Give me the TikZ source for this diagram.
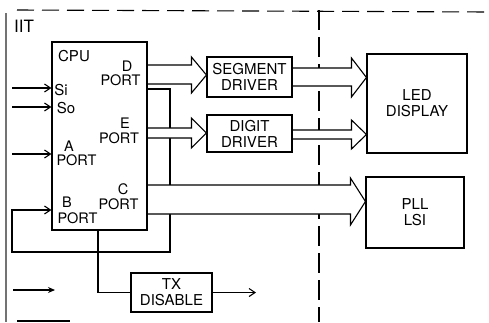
\documentclass[tikz,border=0pt]{standalone}
\usepackage{fontspec}
\setsansfont{TeX Gyre Heros}
\usetikzlibrary{arrows.meta}

\newcommand{\blkfont}{\sffamily\fontsize{15}{16}\selectfont}
\newcommand{\portfont}{\sffamily\fontsize{14.5}{14.5}\selectfont}
\newcommand{\fatarrow}[6]{%
  \draw[fill=white] ([xshift=0.6pt]#1.east |- 0,#3) -- ([xshift=-15pt]#2.west |- 0,#3)
    -- ([xshift=-15pt]#2.west |- 0,#5) -- (#2.west |- 0,{(#5+#6)/2})
    -- ([xshift=-15pt]#2.west |- 0,#6) -- ([xshift=-15pt]#2.west |- 0,#4)
    -- ([xshift=0.6pt]#1.east |- 0,#4);}

\begin{document}
\begin{tikzpicture}[x=1pt, y=-1pt, line width=1.1pt,
  blk/.style={draw, inner sep=0pt, align=center, font=\blkfont},
  txt/.style={inner sep=0pt, font=\blkfont},
  port/.style={inner sep=0pt, align=center, font=\portfont},
  >={Straight Barb[length=6pt,width=8pt]}]
\useasboundingbox (0,0) rectangle (489,322);

% frame and borders
\draw[line width=1.6pt, black!55] (6,13) -- (6,322);
\draw[dash pattern=on 17pt off 8pt] (17,10) -- (489,12);
\draw[dash pattern=on 20pt off 7pt] (319,10) -- (319,322);
\node[txt, font=\sffamily\fontsize{17}{18}\selectfont] (unit) at (24,26) {IIT};

% blocks
\node[blk, minimum width=95pt, minimum height=188pt] (cpu) at (99.5,136) {};
\node[blk, minimum width=85pt, minimum height=40pt] (seg) at (249.5,77) {SEGMENT\\DRIVER};
\node[blk, minimum width=85pt, minimum height=37pt] (dig) at (249.5,133.5) {DIGIT\\DRIVER};
\node[blk, minimum width=100pt, minimum height=99pt] (led) at (417,103.5) {LED\\DISPLAY};
\node[blk, minimum width=98pt, minimum height=71pt] (pll) at (415,212.5) {PLL\\LSI};
\node[blk, minimum width=81pt, minimum height=39pt] (tx) at (171.5,292.5) {TX\\DISABLE};

% cpu labels
\node[txt] (cpuname) at (74,56) {CPU};
\node[port] (dport) at (120.5,73.5) {\hspace*{13pt}D\\PORT};
\node[txt] (si) at (61,90) {Si};
\node[txt] (so) at (66,108) {So};
\node[port] (eport) at (119,131) {\hspace*{12pt}E\\PORT};
\node[port] (aport) at (76.5,153.5) {A\hspace*{15pt}\\PORT};
\node[port] (cport) at (118.5,196.5) {\hspace*{9pt}C\\PORT};
\node[port, font=\sffamily\fontsize{14.5}{16}\selectfont] (bport) at (77.5,210) {B\hspace*{21pt}\\PORT};

% inputs
\coordinate (siin) at (12,88);
\coordinate (soin) at (12,107);
\coordinate (ain) at (12,154);
\draw[->] (siin) -- (cpu.west |- siin);
\draw[->] (soin) -- (cpu.west |- soin);
\draw[->] (ain) -- (cpu.west |- ain);

% D port back to B port
\draw[->] (cpu.east |- 0,89) -- (170,89) -- (170,252) -- (12,252) -- (12,210) -- (cpu.west |- 0,210);

% tx disable
\draw (cpu.south -| 98,0) |- (tx.west);
\coordinate (txout) at (256,292.5);
\draw[->] (tx.east) -- (txout);
\coordinate (fin) at (13,290);
\coordinate (fout) at (55,290);
\draw[-{Stealth[length=7pt,width=6pt]}] (fin) -- (fout);
\draw (17,321) -- (70,321);

% buses
\fatarrow{cpu}{seg}{65}{84}{57}{93}
\fatarrow{cpu}{dig}{128}{138}{118}{148}
\fatarrow{cpu}{pll}{185}{214}{178}{225}
\fatarrow{seg}{led}{68}{86}{58}{97}
\fatarrow{dig}{led}{130}{139}{120}{149}
\end{tikzpicture}
\end{document}
